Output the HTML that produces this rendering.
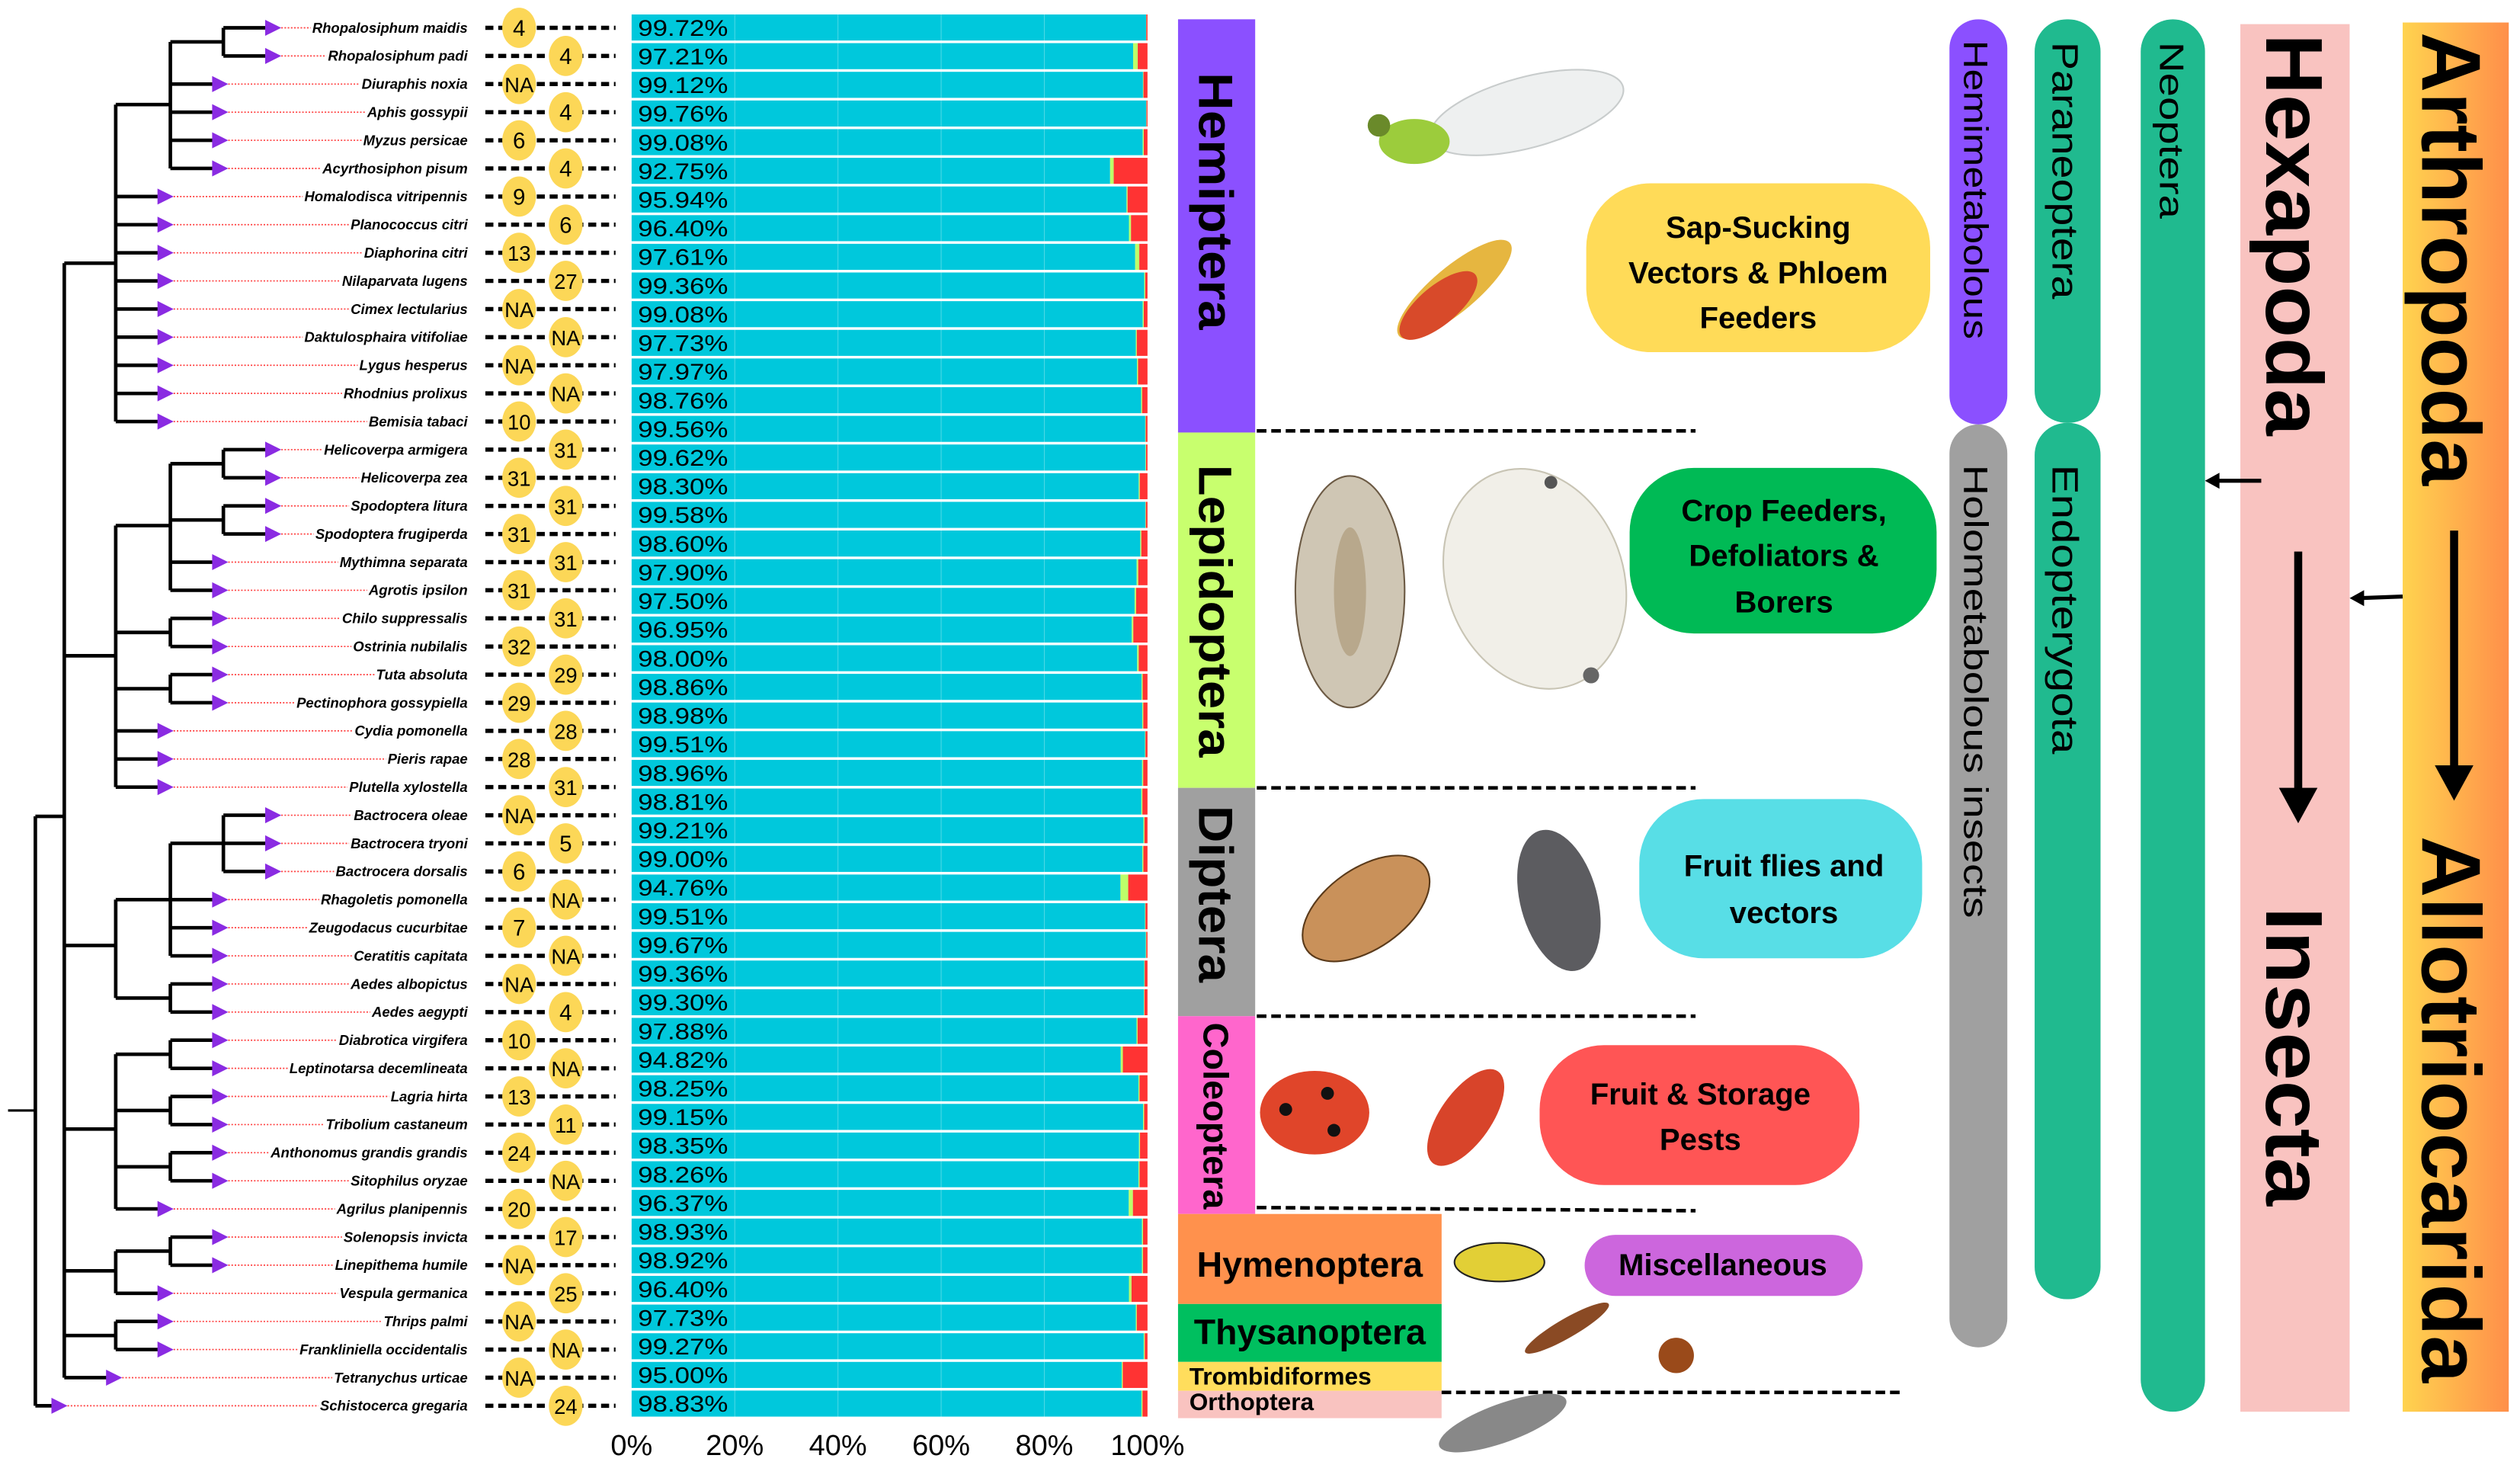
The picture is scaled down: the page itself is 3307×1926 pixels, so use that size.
<!DOCTYPE html>
<html><head><meta charset="utf-8">
<style>
html,body{margin:0;padding:0;background:#fff;}
svg{display:block;}
text{font-family:"Liberation Sans",sans-serif;}
</style></head>
<body>
<svg id="fig" width="3307" height="1926" viewBox="0 0 1568 913" preserveAspectRatio="none" xmlns="http://www.w3.org/2000/svg">
<rect x="0" y="0" width="1568" height="913" fill="#fff"/>
<g id="tree"></g>
<g id="labels"></g>
<g id="counts"></g>
<g id="bars"></g>
<g id="axis"></g>

<g>
<rect x="733" y="12" width="48" height="257" fill="#8B50FF"/>
<text transform="translate(746,125) rotate(90)" text-anchor="middle" font-size="30" font-weight="bold" textLength="160" lengthAdjust="spacingAndGlyphs">Hemiptera</text>
<rect x="733" y="269" width="48" height="221" fill="#C8FF6E"/>
<text transform="translate(746,380) rotate(90)" text-anchor="middle" font-size="29" font-weight="bold" textLength="182" lengthAdjust="spacingAndGlyphs">Lepidoptera</text>
<rect x="733" y="490" width="48" height="142" fill="#A0A0A0"/>
<text transform="translate(746,556) rotate(90)" text-anchor="middle" font-size="30" font-weight="bold" textLength="110" lengthAdjust="spacingAndGlyphs">Diptera</text>
<rect x="733" y="632" width="48" height="123" fill="#FF66CC"/>
<text transform="translate(749,694) rotate(90)" text-anchor="middle" font-size="22" font-weight="bold" textLength="116" lengthAdjust="spacingAndGlyphs">Coleoptera</text>
<rect x="733" y="755" width="164" height="56" fill="#FF914D"/>
<text x="815" y="794" text-anchor="middle" font-size="22" font-weight="bold">Hymenoptera</text>
<rect x="733" y="811" width="164" height="36" fill="#00BF5F"/>
<text x="815" y="836" text-anchor="middle" font-size="22" font-weight="bold">Thysanoptera</text>
<rect x="733" y="847" width="164" height="18" fill="#FFDD5C"/>
<text x="740" y="861" font-size="15" font-weight="bold">Trombidiformes</text>
<rect x="733" y="865" width="164" height="17" fill="#F9C3C0"/>
<text x="740" y="877" font-size="15" font-weight="bold">Orthoptera</text>
</g>

<g stroke="#000" stroke-width="2.2" stroke-dasharray="6,3">
<line x1="782" y1="268" x2="1055" y2="268"/>
<line x1="782" y1="490" x2="1055" y2="490"/>
<line x1="782" y1="632" x2="1055" y2="632"/>
<line x1="782" y1="751" x2="1055" y2="753"/>
<line x1="897" y1="866" x2="1183" y2="866"/>
</g>

<g font-size="19" font-weight="bold" text-anchor="middle">
<rect x="987" y="114" width="214" height="105" rx="40" fill="#FFDB58"/>
<text x="1094" y="148">Sap-Sucking</text>
<text x="1094" y="176">Vectors &amp; Phloem</text>
<text x="1094" y="204">Feeders</text>
<rect x="1014" y="291" width="191" height="103" rx="40" fill="#00BA55"/>
<text x="1110" y="324">Crop Feeders,</text>
<text x="1110" y="352">Defoliators &amp;</text>
<text x="1110" y="381">Borers</text>
<rect x="1020" y="497" width="176" height="99" rx="40" fill="#58DEE6"/>
<text x="1110" y="545">Fruit flies and</text>
<text x="1110" y="574">vectors</text>
<rect x="958" y="650" width="199" height="87" rx="40" fill="#FF5555"/>
<text x="1058" y="687">Fruit &amp; Storage</text>
<text x="1058" y="715">Pests</text>
<rect x="986" y="768" width="173" height="38" rx="19" fill="#CC66DD"/>
<text x="1072" y="793">Miscellaneous</text>
</g>

<g>
<ellipse cx="950" cy="70" rx="62" ry="22" transform="rotate(-15 950 70)" fill="#eef0f0" stroke="#c8cccc"/>
<ellipse cx="880" cy="88" rx="22" ry="14" fill="#9ccc3c"/>
<circle cx="858" cy="78" r="7" fill="#6a8a2a"/>
<ellipse cx="905" cy="180" rx="45" ry="14" transform="rotate(-40 905 180)" fill="#e6b640"/>
<ellipse cx="895" cy="190" rx="30" ry="12" transform="rotate(-40 895 190)" fill="#d84a2a"/>
<ellipse cx="840" cy="368" rx="34" ry="72" fill="#cfc6b4" stroke="#6c5a44"/>
<ellipse cx="840" cy="368" rx="10" ry="40" fill="#b8a88c"/>
<ellipse cx="955" cy="360" rx="55" ry="70" transform="rotate(-20 955 360)" fill="#f1efe8" stroke="#c8c4b4"/>
<circle cx="965" cy="300" r="4" fill="#555"/><circle cx="990" cy="420" r="5" fill="#666"/>
<ellipse cx="850" cy="565" rx="45" ry="25" transform="rotate(-35 850 565)" fill="#c9915a" stroke="#5a3a1a"/>
<ellipse cx="970" cy="560" rx="24" ry="45" transform="rotate(-15 970 560)" fill="#5c5c60"/>
<ellipse cx="818" cy="692" rx="34" ry="26" fill="#e0452a"/>
<circle cx="800" cy="690" r="4" fill="#111"/><circle cx="826" cy="680" r="4" fill="#111"/><circle cx="830" cy="703" r="4" fill="#111"/>
<ellipse cx="912" cy="695" rx="16" ry="35" transform="rotate(35 912 695)" fill="#d8442a"/>
<ellipse cx="933" cy="785" rx="28" ry="12" fill="#e2cf36" stroke="#222"/>
<ellipse cx="975" cy="826" rx="30" ry="6" transform="rotate(-30 975 826)" fill="#8a4a24"/>
<circle cx="1043" cy="843" r="11" fill="#9a4a1a"/>
<ellipse cx="935" cy="885" rx="42" ry="12" transform="rotate(-20 935 885)" fill="#888"/>
</g>

<g>
<rect x="1213" y="12" width="36" height="252" rx="18" fill="#8B50FF"/>
<text transform="translate(1222,118) rotate(90)" text-anchor="middle" font-size="21" textLength="186" lengthAdjust="spacingAndGlyphs">Hemimetabolous</text>
<rect x="1213" y="264" width="36" height="574" rx="18" fill="#A0A0A0"/>
<text transform="translate(1222,430) rotate(90)" text-anchor="middle" font-size="21" textLength="282" lengthAdjust="spacingAndGlyphs">Holometabolous insects</text>
<rect x="1266" y="12" width="41" height="251" rx="20" fill="#20BA8F"/>
<text transform="translate(1277,106) rotate(90)" text-anchor="middle" font-size="23" textLength="160" lengthAdjust="spacingAndGlyphs">Paraneoptera</text>
<rect x="1266" y="263" width="41" height="545" rx="20" fill="#20BA8F"/>
<text transform="translate(1277,379) rotate(90)" text-anchor="middle" font-size="23" textLength="180" lengthAdjust="spacingAndGlyphs">Endopterygota</text>
<rect x="1332" y="12" width="40" height="866" rx="20" fill="#20BA8F"/>
<text transform="translate(1344,81) rotate(90)" text-anchor="middle" font-size="21" textLength="110" lengthAdjust="spacingAndGlyphs">Neoptera</text>
<rect x="1394" y="15" width="68" height="863" fill="#F9C3C0"/>
<text transform="translate(1410,146) rotate(90)" text-anchor="middle" font-size="50" font-weight="bold" textLength="250" lengthAdjust="spacingAndGlyphs">Hexapoda</text>
<line x1="1430" y1="343" x2="1430" y2="495" stroke="#000" stroke-width="5"/>
<polygon points="1418,490 1442,490 1430,512" fill="#000"/>
<text transform="translate(1410,657) rotate(90)" text-anchor="middle" font-size="50" font-weight="bold" textLength="186" lengthAdjust="spacingAndGlyphs">Insecta</text>
<defs><linearGradient id="og" x1="0" x2="1" y1="0" y2="0"><stop offset="0" stop-color="#FFD34F"/><stop offset="1" stop-color="#FF8F4A"/></linearGradient></defs>
<rect x="1495" y="14" width="66" height="864" fill="url(#og)"/>
<text transform="translate(1507,161) rotate(90)" text-anchor="middle" font-size="52" font-weight="bold" textLength="282" lengthAdjust="spacingAndGlyphs">Arthropoda</text>
<line x1="1527" y1="330" x2="1527" y2="480" stroke="#000" stroke-width="5"/>
<polygon points="1515,476 1539,476 1527,498" fill="#000"/>
<text transform="translate(1507,690) rotate(90)" text-anchor="middle" font-size="52" font-weight="bold" textLength="340" lengthAdjust="spacingAndGlyphs">Allotriocarida</text>
<line x1="1378" y1="299" x2="1407" y2="299" stroke="#000" stroke-width="2.5"/>
<polygon points="1372,299 1381,294 1381,304" fill="#000"/>
<line x1="1468" y1="372" x2="1495" y2="371" stroke="#000" stroke-width="2.5"/>
<polygon points="1462,372 1471,367 1471,377" fill="#000"/>
</g>
</svg>
<script>
const species = ["Rhopalosiphum maidis","Rhopalosiphum padi","Diuraphis noxia","Aphis gossypii","Myzus persicae","Acyrthosiphon pisum","Homalodisca vitripennis","Planococcus citri","Diaphorina citri","Nilaparvata lugens","Cimex lectularius","Daktulosphaira vitifoliae","Lygus hesperus","Rhodnius prolixus","Bemisia tabaci","Helicoverpa armigera","Helicoverpa zea","Spodoptera litura","Spodoptera frugiperda","Mythimna separata","Agrotis ipsilon","Chilo suppressalis","Ostrinia nubilalis","Tuta absoluta","Pectinophora gossypiella","Cydia pomonella","Pieris rapae","Plutella xylostella","Bactrocera oleae","Bactrocera tryoni","Bactrocera dorsalis","Rhagoletis pomonella","Zeugodacus cucurbitae","Ceratitis capitata","Aedes albopictus","Aedes aegypti","Diabrotica virgifera","Leptinotarsa decemlineata","Lagria hirta","Tribolium castaneum","Anthonomus grandis grandis","Sitophilus oryzae","Agrilus planipennis","Solenopsis invicta","Linepithema humile","Vespula germanica","Thrips palmi","Frankliniella occidentalis","Tetranychus urticae","Schistocerca gregaria"];
const counts = ["4","4","NA","4","6","4","9","6","13","27","NA","NA","NA","NA","10","31","31","31","31","31","31","31","32","29","29","28","28","31","NA","5","6","NA","7","NA","NA","4","10","NA","13","11","24","NA","20","17","NA","25","NA","NA","NA","24"];
const complete = [99.72,97.21,99.12,99.76,99.08,92.75,95.94,96.40,97.61,99.36,99.08,97.73,97.97,98.76,99.56,99.62,98.30,99.58,98.60,97.90,97.50,96.95,98.00,98.86,98.98,99.51,98.96,98.81,99.21,99.00,94.76,99.51,99.67,99.36,99.30,97.88,94.82,98.25,99.15,98.35,98.26,96.37,98.93,98.92,96.40,97.73,99.27,95.00,98.83];
const fragmented = [0.05,0.9,0.1,0.05,0.2,0.7,0.2,0.4,0.8,0.2,0.2,0.2,0.2,0.2,0.1,0.1,0.2,0.1,0.2,0.3,0.3,0.3,0.3,0.2,0.2,0.1,0.2,0.2,0.2,0.2,1.5,0.1,0.1,0.1,0.1,0.2,0.4,0.2,0.2,0.2,0.2,0.8,0.2,0.2,0.5,0.2,0.2,0.2,0.2];
const tickLabels = ["0%","20%","40%","60%","80%","100%"];
const tickValues = [0,20,40,60,80,100];

const NS = "http://www.w3.org/2000/svg";
function mk(tag, attrs, parent){const e=document.createElementNS(NS,tag);for(const k in attrs)e.setAttribute(k,attrs[k]);parent.appendChild(e);return e;}
const rowY = i => 17.3 + i*17.49;
const barY = i => 17.2 + i*17.83;
const xScale = v => 393 + v/100*321;

const nodes = {
 rp:{x:139,r:0.5,k:[0,1]}, aph:{x:106,r:2.73,k:["rp",2,3,4,5]}, hem:{x:72,r:8.37,k:["aph",6,7,8,9,10,11,12,13,14]},
 hel:{x:139,r:15.5,k:[15,16]}, spo:{x:139,r:17.5,k:[17,18]}, noc:{x:106,r:17.7,k:["hel","spo",19,20]},
 chi:{x:106,r:21.5,k:[21,22]}, tut:{x:106,r:23.5,k:[23,24]}, lep:{x:72,r:22.33,k:["noc","chi","tut",25,26,27]},
 bac:{x:139,r:29,k:[28,29,30]}, tep:{x:106,r:31,k:["bac",31,32,33]}, aed:{x:106,r:34.5,k:[34,35]}, dip:{x:72,r:32.63,k:["tep","aed"]},
 c1:{x:106,r:36.5,k:[36,37]}, c2:{x:106,r:38.5,k:[38,39]}, c3:{x:106,r:40.5,k:[40,41]}, col:{x:72,r:39.16,k:["c1","c2","c3",42]},
 ant:{x:106,r:43.5,k:[43,44]}, hym:{x:72,r:44.2,k:["ant",45]}, thy:{x:72,r:46.5,k:[46,47]},
 A:{x:40,r:28.04,k:["hem","lep","dip","col","hym","thy",48]}, root:{x:22,r:38.5,k:["A",49]}
};
const tree = document.getElementById('tree');
const labels = document.getElementById('labels');
const tips = [];
for(const id in nodes){
  const n = nodes[id];
  const ys = n.k.map(c => typeof c === "string" ? rowY(nodes[c].r) : rowY(c));
  const v = mk('line',{x1:n.x,x2:n.x,y1:Math.min(...ys),y2:Math.max(...ys),stroke:'#000','stroke-width':2.2},tree);
  
  
  n.k.forEach(c=>{
    if(typeof c === "string"){
      const cn = nodes[c];
      const h = mk('line',{x1:n.x,x2:cn.x,y1:rowY(cn.r),y2:rowY(cn.r),stroke:'#000','stroke-width':2.2},tree);
      
      
    } else {
      const tip = n.x===22 ? 42 : n.x+36;
      tips[c] = tip;
      const y = rowY(c);
      const h = mk('line',{x1:n.x,x2:tip-9,y1:y,y2:y,stroke:'#000','stroke-width':2.2},tree);
      
      
      const a = mk('polygon',{points:`${tip-10},${y-5} ${tip},${y} ${tip-10},${y+5}`,fill:'#8A2BE2'},tree);
      
      
    }
  });
}
const rs = mk('line',{x1:5,x2:22,y1:rowY(38.5),y2:rowY(38.5),stroke:'#000','stroke-width':1.5},tree);



species.forEach((s,i)=>{
  const y = rowY(i);
  const t = mk('text',{x:291,y:y+3,'text-anchor':'end','font-size':8.8,'font-weight':'bold','font-style':'italic'},labels);
  t.textContent = s;
  
  
  let w = 8*s.length*0.5;
  try{ w = t.getComputedTextLength(); }catch(e){}
  const d = mk('line',{x1:tips[i],x2:291-w-1,y1:y,y2:y,stroke:'#ff4444','stroke-width':0.8,'stroke-dasharray':'1,1'},labels);
  
  
});

const cg = document.getElementById('counts');
counts.forEach((c,i)=>{
  const y = rowY(i);
  const dl = mk('line',{x1:302,x2:383,y1:y,y2:y,stroke:'#000','stroke-width':2.6,'stroke-dasharray':'5,3'},cg);
  
  
  const cx = i%2===0 ? 323 : 352;
  const e = mk('ellipse',{cx:cx,cy:y,rx:10.5,ry:12.5,fill:'#FCD757'},cg);
  
  
  const t = mk('text',{x:cx,y:y+5,'text-anchor':'middle','font-size':c.length>1?13:14},cg);
  t.textContent = c;
  
  
});

const bg = document.getElementById('bars');
complete.forEach((v,i)=>{
  const y = barY(i)-8.2, h = 16.2;
  const f = fragmented[i];
  const m = Math.max(0, 100 - v - f);
  const r1 = mk('rect',{x:xScale(0),y:y,width:xScale(v)-xScale(0),height:h,fill:'#00C8DC'},bg);
  
  
  const r2 = mk('rect',{x:xScale(v),y:y,width:xScale(v+f)-xScale(v),height:h,fill:'#BDFF6A'},bg);
  
  
  const r3 = mk('rect',{x:xScale(v+f),y:y,width:xScale(v+f+m)-xScale(v+f),height:h,fill:'#FF3333'},bg);
  
  
  const t = mk('text',{x:397,y:barY(i)+5,'font-size':14,textLength:56,lengthAdjust:'spacingAndGlyphs'},bg);
  t.textContent = v.toFixed(2)+'%';
  
  
});
tickValues.forEach(v=>{
  if(v>0 && v<100){
    const g = mk('line',{x1:xScale(v),x2:xScale(v),y1:8,y2:882,stroke:'#ffffff','stroke-width':0.5,'stroke-opacity':0.3},bg);
    
    
  }
});
const ax = document.getElementById('axis');
tickLabels.forEach((l,j)=>{
  const t = mk('text',{x:xScale(tickValues[j]),y:905,'text-anchor':'middle','font-size':18},ax);
  t.textContent = l;
  
  
});
</script>
</body></html>
